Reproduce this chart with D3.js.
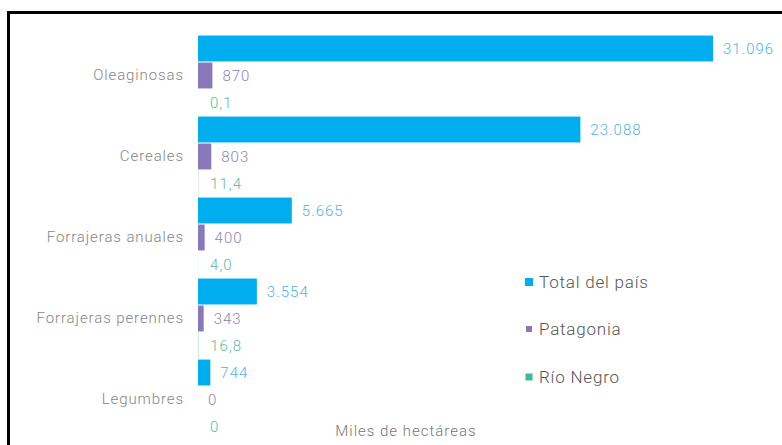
<!DOCTYPE html>
<html><head><meta charset="utf-8">
<script src="https://cdn.jsdelivr.net/npm/d3@7"></script>
<style>
html,body{margin:0;padding:0;background:#fff;}
svg{display:block;font-family:Roboto,"Noto Sans",sans-serif;}
</style></head>
<body><svg id="chart" width="782" height="445"></svg>
<script>
const categories = ["Oleaginosas","Cereales","Forrajeras anuales","Forrajeras perennes","Legumbres"];
const seriesNames = ["Total del país","Patagonia","Río Negro"];
const totalPais = [31096, 23088, 5665, 3554, 744];
const patagonia = [870, 803, 400, 343, 0];
const rioNegro = [0.1, 11.4, 4.0, 16.8, 0];
const axisTitle = "Miles de hectáreas";

const colors = ["#00aeef", "#8a78bd", "#3fb8a0"];
const labelColors = ["#4fb3e3", "#8f84b8", "#5bbb9c"];
const seriesValues = [totalPais, patagonia, rioNegro];

const locale = d3.formatLocale({decimal: ",", thousands: ".", grouping: [3], currency: ["", ""]});
const fmts = [locale.format(",.0f"), locale.format(",.0f"), locale.format(",.1f")];
function fmtVal(v, s) { return v === 0 ? "0" : fmts[s](v); }

const svg = d3.select("#chart");

// frame (cropped border)
svg.append("line").attr("x1", 8).attr("x2", 782).attr("y1", 12.5).attr("y2", 12.5).attr("stroke", "#000").attr("stroke-width", 3);
svg.append("line").attr("x1", 8.5).attr("x2", 8.5).attr("y1", 11).attr("y2", 445).attr("stroke", "#000").attr("stroke-width", 3);

const x = d3.scaleLinear().domain([0, d3.max(totalPais)]).range([198, 713]);
const y = d3.scaleBand().domain(categories).range([35, 440]).paddingInner(0).paddingOuter(0);
const ySub = d3.scaleBand().domain(d3.range(3)).range([0, y.bandwidth()]).paddingInner(0.04).paddingOuter(0.02);

const yAxis = d3.axisLeft(y).tickSize(0).tickPadding(14);
const gAxis = svg.append("g").attr("transform", "translate(198,0)").call(yAxis);
gAxis.select(".domain").remove();
gAxis.selectAll("text").attr("font-size", 15).attr("fill", "#858585")
  .attr("font-family", "Roboto, sans-serif").attr("font-weight", 300).attr("letter-spacing", "0.9px");

const data = [];
categories.forEach((c, i) => {
  seriesValues.forEach((arr, s) => data.push({cat: c, s: s, v: arr[i]}));
});

const g = svg.append("g");
g.selectAll("rect.bar").data(data.filter(d => d.v > 0)).join("rect")
  .attr("class", "bar")
  .attr("x", x(0))
  .attr("y", d => y(d.cat) + ySub(d.s))
  .attr("width", d => Math.max(0, x(d.v) - x(0)))
  .attr("height", ySub.bandwidth())
  .attr("fill", d => colors[d.s]);

g.selectAll("text.val").data(data).join("text")
  .attr("class", "val")
  .attr("x", d => x(d.v) + (d.s === 2 ? 12 : 10))
  .attr("y", d => y(d.cat) + ySub(d.s) + ySub.bandwidth() / 2)
  .attr("dy", "0.35em")
  .attr("font-size", 15)
  .attr("font-weight", 300)
  .attr("letter-spacing", "1px")
  .attr("fill", d => labelColors[d.s])
  .text(d => fmtVal(d.v, d.s));

// axis title
svg.append("text").attr("x", 406).attr("y", 431).attr("dy", "0.35em")
  .attr("text-anchor", "middle").attr("font-size", 15).attr("font-weight", 300)
  .attr("letter-spacing", "1px").attr("fill", "#777").text(axisTitle);

// legend
const legY = [282, 329, 377];
const legSize = [8, 6, 7];
const leg = svg.append("g");
seriesNames.forEach((n, i) => {
  leg.append("rect").attr("x", 529 - legSize[i] / 2).attr("y", legY[i] - legSize[i] / 2)
    .attr("width", legSize[i]).attr("height", legSize[i]).attr("fill", colors[i]);
  leg.append("text").attr("x", 539).attr("y", legY[i]).attr("dy", "0.35em")
    .attr("font-size", 17).attr("font-weight", 300).attr("letter-spacing", "0.8px")
    .attr("fill", "#555").text(n);
});
</script></body></html>
